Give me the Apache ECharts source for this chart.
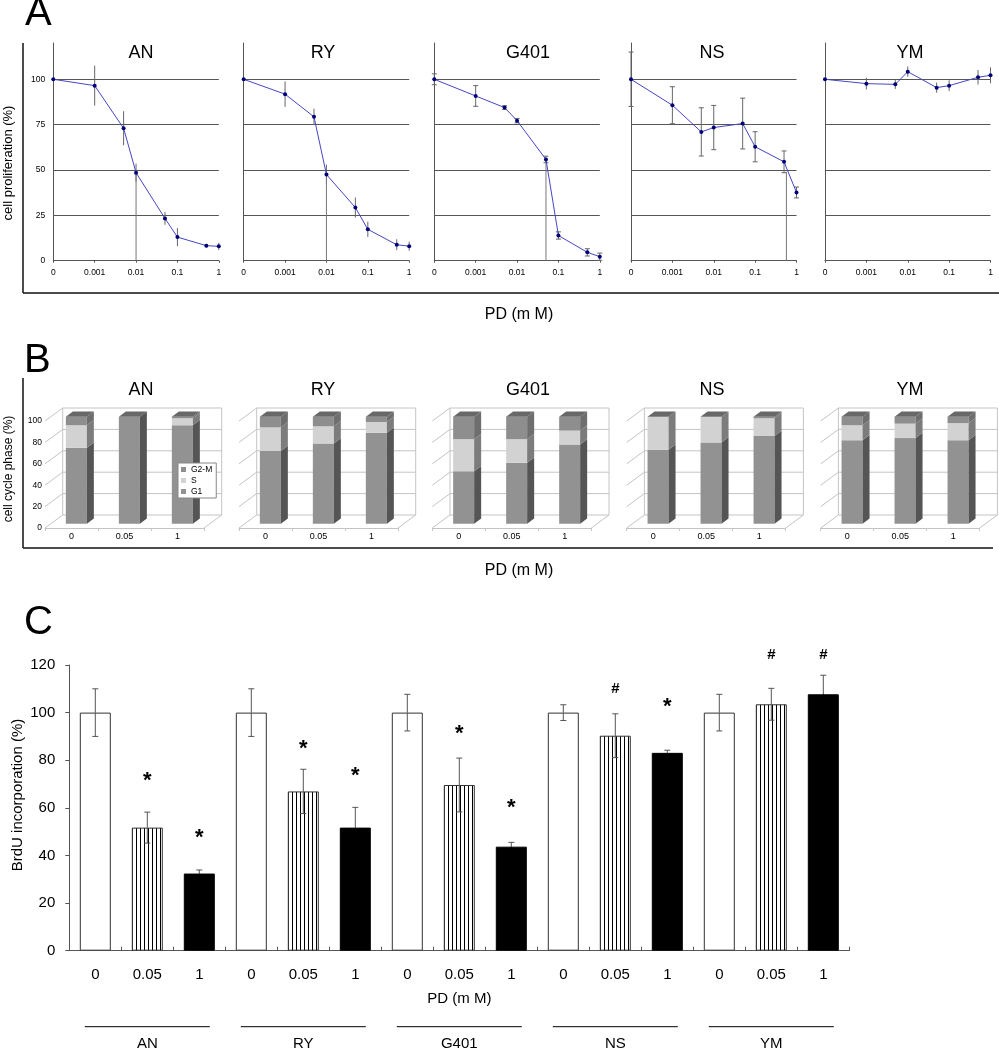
<!DOCTYPE html>
<html><head><meta charset="utf-8">
<script src="https://cdn.jsdelivr.net/npm/echarts@6/dist/echarts.min.js"></script>
<style>html,body{margin:0;padding:0;background:#fff}#c{width:999px;height:1050px}</style>
</head><body><div id="c"></div>
<script>
// ---------- DATA ----------
const cellLines = ['AN', 'RY', 'G401', 'NS', 'YM'];
// Panel A: proliferation vs dose
const doses = [0, 0.001, 0.005, 0.01, 0.05, 0.1, 0.5, 1];
const doseTickLabels = ['0', '0.001', '0.01', '0.1', '1'];
const profAN   = [100, 96.5, 73, 48.5, 23.3, 13, 8.3, 7.9];
const profRY   = [100, 91.8, 79.3, 47.5, 29.3, 17.3, 8.8, 8];
const profG401 = [100, 90.8, 84.4, 77.2, 55.8, 13.9, 4.6, 2.2];
const profNS   = [100, 85.7, 71, 73.4, 75.6, 62.8, 54.5, 37.6];
const profYM   = [100, 97.6, 97.2, 104.2, 95.4, 96.5, 101.1, 102.2];
const errAN   = [0, 11, 9.4, 5, 3.5, 5, 1, 2];
const errRY   = [0, 7, 4.5, 5.5, 5.5, 4.2, 3, 2.5];
const errG401 = [3, 5.7, 1, 1.2, 1.8, 2, 2, 2];
const errNS   = [15, 10.2, 13.3, 12.2, 14, 8.3, 6, 3];
const errYM   = [0, 3.2, 2.5, 2.8, 2.8, 3, 4, 4.4];
const dropDose = [0.01, 0.01, 0.05, 0.57, null];
const dropTop  = [48.5, 47.5, 55.8, 49, null];
const profTicks = [0, 25, 50, 75, 100];
// Panel B: cell cycle phase (%)
const phaseDoses = ['0', '0.05', '1'];
const phaseNames = ['G2-M', 'S', 'G1'];
const g1AN = [71, 100, 92],  sAN = [21, 0, 6.5],   g2mAN = [8, 0, 1.5];
const g1RY = [68, 75, 85],   sRY = [22, 16, 10],   g2mRY = [10, 9, 5];
const g1G401 = [49, 57, 74], sG401 = [30, 22, 13], g2mG401 = [21, 21, 13];
const g1NS = [69, 76, 82],   sNS = [31, 24, 16.5], g2mNS = [0, 0, 1.5];
const g1YM = [78, 80, 78],   sYM = [14, 13.5, 16], g2mYM = [8, 6.5, 6];
const phaseTicks = [0, 20, 40, 60, 80, 100];
// Panel C: BrdU incorporation (%)
const brduCats = ['0','0.05','1','0','0.05','1','0','0.05','1','0','0.05','1','0','0.05','1'];
const brdu    = [100, 51.7, 32.4, 100, 66.9, 51.7, 100, 69.6, 43.7, 100, 90.3, 83.1, 100, 103.5, 107.7];
const brduErr = [10, 6.5, 1.5, 10, 9.3, 8.5, 7.7, 11.3, 1.8, 3.3, 9.2, 1.1, 7.7, 6.7, 8];
const sigMark = ['', '*', '*', '', '*', '*', '', '*', '*', '', '#', '*', '', '#', '#'];
const sigY    = [null, 73.4, 49.6, null, 86.8, 75.5, null, 93, 62.2, null, 110, 104.4, null, 124.2, 124.2];
const groupCenters = [1, 4, 7, 10, 13];

// ---------- LAYOUT / STYLE ----------
const FF = '"Liberation Sans", Arial, sans-serif';
const profs = [profAN, profRY, profG401, profNS, profYM];
const errs = [errAN, errRY, errG401, errNS, errYM];
const g1s = [g1AN, g1RY, g1G401, g1NS, g1YM];
const ss = [sAN, sRY, sG401, sNS, sYM];
const g2ms = [g2mAN, g2mRY, g2mG401, g2mNS, g2mYM];
const aLeft = [53.3, 243.7, 434.3, 631, 825];
const bLeft = [45, 239, 432.3, 626.7, 820.7];
const titleX = [141, 323, 528, 712, 910];
const capW = [0, 0, 2.5, 2.5, 0];
const frontCol = ['#929292', '#d2d2d2', '#8e8e8e'];
const sideCol = ['#555555', '#7c7c7c', '#6e6e6e'];
const topCol = '#686868';
const xpos = d => d === 0 ? 0 : Math.log10(d) + 4;

const pc = document.createElement('canvas'); pc.width = 4; pc.height = 4;
const pctx = pc.getContext('2d');
pctx.fillStyle = '#fff'; pctx.fillRect(0, 0, 4, 4);
pctx.fillStyle = '#000'; pctx.fillRect(0, 0, 1, 4);

const grid = [], xAxis = [], yAxis = [], series = [], graphic = [];

// Panel A
for (let i = 0; i < 5; i++) {
  grid.push({left: aLeft[i], top: 43, width: 165.5, height: 217.7});
  xAxis.push({type: 'value', gridIndex: i, min: 0, max: 4, interval: 1,
    axisLine: {lineStyle: {color: '#555', width: 1}},
    axisTick: {show: true, length: 2, lineStyle: {color: '#555'}},
    axisLabel: {fontSize: 8.5, color: '#000', fontFamily: FF, margin: 7, formatter: v => doseTickLabels[Math.round(v)]},
    splitLine: {show: false}});
  yAxis.push({type: 'value', gridIndex: i, min: 0, max: 120, interval: 25,
    axisLine: {show: true, lineStyle: {color: '#555', width: 1}},
    axisTick: {show: false},
    axisLabel: {show: i === 0, fontSize: 8.5, color: '#000', fontFamily: FF, margin: 8, showMaxLabel: false},
    splitLine: {show: true, showMinLine: false, showMaxLine: false, lineStyle: {color: '#555', width: 1}}});
  const cw = capW[i];
  series.push({type: 'custom', xAxisIndex: i, yAxisIndex: i, silent: true, z: 2,
    data: doses.map((d, k) => [xpos(d), profs[i][k] - errs[i][k], profs[i][k] + errs[i][k]]).filter((r, k) => errs[i][k] > 0),
    encode: {x: 0, y: [1, 2]},
    renderItem: (p, api) => {
      const lo = api.coord([api.value(0), api.value(1)]);
      const hi = api.coord([api.value(0), api.value(2)]);
      const st = {stroke: '#666', lineWidth: 1};
      const ch = [{type: 'line', shape: {x1: lo[0], y1: lo[1], x2: hi[0], y2: hi[1]}, style: st}];
      if (cw > 0) {
        ch.push({type: 'line', shape: {x1: lo[0] - cw, y1: lo[1], x2: lo[0] + cw, y2: lo[1]}, style: st});
        ch.push({type: 'line', shape: {x1: hi[0] - cw, y1: hi[1], x2: hi[0] + cw, y2: hi[1]}, style: st});
      }
      return {type: 'group', children: ch};
    }});
  if (dropDose[i] !== null) {
    series.push({type: 'custom', xAxisIndex: i, yAxisIndex: i, silent: true, z: 2,
      data: [[xpos(dropDose[i]), dropTop[i]]],
      renderItem: (p, api) => {
        const a = api.coord([api.value(0), api.value(1)]);
        const b = api.coord([api.value(0), 0]);
        return {type: 'line', shape: {x1: a[0], y1: a[1], x2: b[0], y2: b[1]}, style: {stroke: '#777', lineWidth: 1}};
      }});
  }
  series.push({type: 'line', xAxisIndex: i, yAxisIndex: i, silent: true, z: 3,
    data: doses.map((d, k) => [xpos(d), profs[i][k]]),
    symbol: 'circle', symbolSize: 4, showSymbol: true,
    itemStyle: {color: '#00007a'}, lineStyle: {color: '#4646c4', width: 1}});
  graphic.push({type: 'text', x: titleX[i], y: 53, style: {text: cellLines[i], font: '18px ' + FF, fill: '#000', align: 'center', verticalAlign: 'middle'}});
}

// Panel B
for (let i = 0; i < 5; i++) {
  const gi = 5 + i;
  grid.push({left: bLeft[i], top: 421, width: 159, height: 107});
  xAxis.push({type: 'category', gridIndex: gi, data: phaseDoses, boundaryGap: true,
    axisLine: {lineStyle: {color: '#c4c4c4'}},
    axisTick: {show: true, length: 3, lineStyle: {color: '#c4c4c4'}},
    axisLabel: {fontSize: 9, color: '#000', fontFamily: FF, margin: 4}});
  yAxis.push({type: 'value', gridIndex: gi, min: 0, max: 100, interval: 20,
    axisLine: {show: false}, axisTick: {show: false}, splitLine: {show: false},
    axisLabel: {show: i === 0, fontSize: 8.5, color: '#000', fontFamily: FF, margin: 3}});
  series.push({type: 'custom', xAxisIndex: gi, yAxisIndex: gi, silent: true, z: 1,
    data: phaseTicks.map(v => [0, v]),
    renderItem: (p, api) => {
      const cs = p.coordSys;
      const v = api.value(1);
      const y = api.coord([0, v])[1];
      const x0 = cs.x, x1 = cs.x + cs.width, bx = 17.7, by = 13;
      const st = {stroke: '#c4c4c4', lineWidth: 1};
      const ch = [
        {type: 'line', shape: {x1: x0 + bx, y1: y - by, x2: x1 + bx, y2: y - by}, style: st},
        {type: 'line', shape: {x1: x0, y1: y, x2: x0 + bx, y2: y - by}, style: st}];
      if (v === 0) {
        const yT = api.coord([0, 100])[1];
        ch.push({type: 'line', shape: {x1: x1, y1: y, x2: x1 + bx, y2: y - by}, style: st});
        ch.push({type: 'line', shape: {x1: x0 + bx, y1: y - by, x2: x0 + bx, y2: yT - by}, style: st});
        ch.push({type: 'line', shape: {x1: x1 + bx, y1: y - by, x2: x1 + bx, y2: yT - by}, style: st});
      }
      return {type: 'group', children: ch};
    }});
  series.push({type: 'custom', xAxisIndex: gi, yAxisIndex: gi, silent: true, z: 3,
    data: phaseDoses.map((d, k) => [k, g1s[i][k], ss[i][k], g2ms[i][k]]),
    encode: {x: 0, y: 1},
    renderItem: (p, api) => {
      const idx = api.value(0), g1 = api.value(1), s = api.value(2), g2 = api.value(3);
      const cx = api.coord([idx, 0])[0];
      const W = 21, L = cx - 5.65, R = L + W, dx = 7, dy = 5.3, sh = 4.3;
      const yv = v => api.coord([idx, v])[1] - sh;
      const segs = [[0, g1, 0], [g1, g1 + s, 1], [g1 + s, g1 + s + g2, 2]];
      const ch = [];
      segs.forEach(([a, b, k]) => {
        if (b - a <= 0.01) return;
        const yb = yv(a), yt = yv(b);
        ch.push({type: 'rect', shape: {x: L, y: yt, width: W, height: yb - yt}, style: {fill: frontCol[k]}});
        ch.push({type: 'polygon', shape: {points: [[R, yb], [R + dx, yb - dy], [R + dx, yt - dy], [R, yt]]}, style: {fill: sideCol[k]}});
      });
      const ytop = yv(g1 + s + g2);
      ch.push({type: 'polygon', shape: {points: [[L, ytop], [R, ytop], [R + dx, ytop - dy], [L + dx, ytop - dy]]}, style: {fill: topCol}});
      return {type: 'group', children: ch};
    }});
  graphic.push({type: 'text', x: titleX[i], y: 390, style: {text: cellLines[i], font: '18px ' + FF, fill: '#000', align: 'center', verticalAlign: 'middle'}});
}
// legend helper series (panel B, AN)
const legendColors = {'G2-M': frontCol[2], 'S': frontCol[1], 'G1': frontCol[0]};
phaseNames.forEach(n => series.push({type: 'custom', name: n, xAxisIndex: 5, yAxisIndex: 5, data: [],
  itemStyle: {color: legendColors[n]}, renderItem: () => null}));

// Panel C
grid.push({left: 69.3, top: 665, width: 780, height: 285.7});
xAxis.push({type: 'category', gridIndex: 10, data: brduCats, boundaryGap: true,
  axisLine: {lineStyle: {color: '#555', width: 1}},
  axisTick: {show: true, inside: true, length: 4, interval: 0, lineStyle: {color: '#555'}},
  axisLabel: {fontSize: 15, color: '#000', fontFamily: FF, margin: 17, interval: 0},
  name: 'PD (m M)', nameLocation: 'middle', nameGap: 41,
  nameTextStyle: {fontSize: 15, color: '#000', fontFamily: FF}});
yAxis.push({type: 'value', gridIndex: 10, min: 0, max: 120, interval: 20,
  axisLine: {show: true, lineStyle: {color: '#555', width: 1}},
  axisTick: {show: true, length: 4, lineStyle: {color: '#555'}},
  axisLabel: {fontSize: 15, color: '#000', fontFamily: FF, margin: 14},
  splitLine: {show: false}});
const barStyles = [
  {color: '#fff', borderColor: '#333', borderWidth: 1},
  {color: {image: pc, repeat: 'repeat'}, borderColor: '#333', borderWidth: 1},
  {color: '#000', borderColor: '#000', borderWidth: 1}];
series.push({type: 'bar', xAxisIndex: 10, yAxisIndex: 10, barWidth: 31, silent: true, z: 2,
  data: brdu.map((v, i) => ({value: v, itemStyle: barStyles[i % 3]}))});
series.push({type: 'custom', xAxisIndex: 10, yAxisIndex: 10, silent: true, z: 4,
  data: brdu.map((v, i) => [i, v, brduErr[i]]),
  encode: {x: 0, y: 1},
  renderItem: (p, api) => {
    const i = api.value(0), v = api.value(1), e = api.value(2);
    const pm = api.coord([i, v]), pl = api.coord([i, v - e]), ph = api.coord([i, v + e]);
    const x = pm[0], black = (i % 3 === 2);
    const st = {stroke: '#555', lineWidth: 1};
    const stl = {stroke: black ? '#000' : '#555', lineWidth: 1};
    return {type: 'group', children: [
      {type: 'line', shape: {x1: x, y1: ph[1], x2: x, y2: pm[1]}, style: st},
      {type: 'line', shape: {x1: x, y1: pm[1], x2: x, y2: pl[1]}, style: stl},
      {type: 'line', shape: {x1: x - 3, y1: ph[1], x2: x + 3, y2: ph[1]}, style: st},
      {type: 'line', shape: {x1: x - 3, y1: pl[1], x2: x + 3, y2: pl[1]}, style: stl}]};
  }});
series.push({type: 'custom', xAxisIndex: 10, yAxisIndex: 10, silent: true, z: 5,
  data: sigY.map((y, i) => [i, y === null ? 0 : y]),
  renderItem: (p, api) => {
    const i = p.dataIndex;
    if (!sigMark[i]) return null;
    const c = api.coord([api.value(0), api.value(1)]);
    const star = sigMark[i] === '*';
    return {type: 'text', x: c[0], y: c[1] + (star ? 5 : 0),
      style: {text: sigMark[i], font: 'bold ' + (star ? 22 : 15) + 'px ' + FF, fill: '#000', align: 'center', verticalAlign: 'middle'}};
  }});
series.push({type: 'custom', xAxisIndex: 10, yAxisIndex: 10, silent: true, z: 5,
  data: groupCenters.map(c => [c, 0]),
  renderItem: (p, api) => {
    const c = api.coord([api.value(0), 0]);
    return {type: 'group', children: [
      {type: 'line', shape: {x1: c[0] - 62.5, y1: c[1] + 76, x2: c[0] + 62.5, y2: c[1] + 76}, style: {stroke: '#000', lineWidth: 1}},
      {type: 'text', x: c[0], y: c[1] + 93.3, style: {text: cellLines[p.dataIndex], font: '15px ' + FF, fill: '#000', align: 'center', verticalAlign: 'middle'}}]};
  }});

// Decorations
const T = (text, x, y, size, extra) => Object.assign({type: 'text', x, y,
  style: {text, font: size + 'px ' + FF, fill: '#000', align: 'center', verticalAlign: 'middle'}}, extra || {});
graphic.push(
  {type: 'text', x: 25, y: 14, style: {text: 'A', font: '40px ' + FF, fill: '#000', align: 'left', verticalAlign: 'middle'}},
  {type: 'text', x: 24, y: 361, style: {text: 'B', font: '40px ' + FF, fill: '#000', align: 'left', verticalAlign: 'middle'}},
  {type: 'text', x: 24, y: 623, style: {text: 'C', font: '40px ' + FF, fill: '#000', align: 'left', verticalAlign: 'middle'}},
  {type: 'line', shape: {x1: 23, y1: 43, x2: 23, y2: 293}, style: {stroke: '#111', lineWidth: 1.5}},
  {type: 'line', shape: {x1: 23, y1: 293, x2: 999, y2: 293}, style: {stroke: '#111', lineWidth: 1.5}},
  {type: 'line', shape: {x1: 23, y1: 378, x2: 23, y2: 548}, style: {stroke: '#111', lineWidth: 1.5}},
  {type: 'line', shape: {x1: 23, y1: 548, x2: 993, y2: 548}, style: {stroke: '#111', lineWidth: 1.5}},
  T('PD (m M)', 519, 315, 16),
  T('PD (m M)', 519, 571, 16),
  T('cell proliferation (%)', 8, 163, 13, {rotation: Math.PI / 2}),
  T('cell cycle phase (%)', 9, 469, 12, {rotation: Math.PI / 2}),
  T('BrdU incorporation (%)', 18, 795, 15, {rotation: Math.PI / 2})
);

const chart = echarts.init(document.getElementById('c'), null, {renderer: 'canvas'});
chart.setOption({
  animation: false,
  backgroundColor: '#fff',
  textStyle: {fontFamily: FF},
  grid, xAxis, yAxis, series, graphic,
  legend: {data: phaseNames, left: 178, top: 463, orient: 'vertical', selectedMode: false,
    icon: 'rect', itemWidth: 5, itemHeight: 5, itemGap: 2, padding: [2, 4, 2, 3],
    borderColor: '#888', borderWidth: 1, backgroundColor: '#fff',
    textStyle: {fontSize: 8.5, color: '#000', fontFamily: FF}}
});
</script></body></html>
